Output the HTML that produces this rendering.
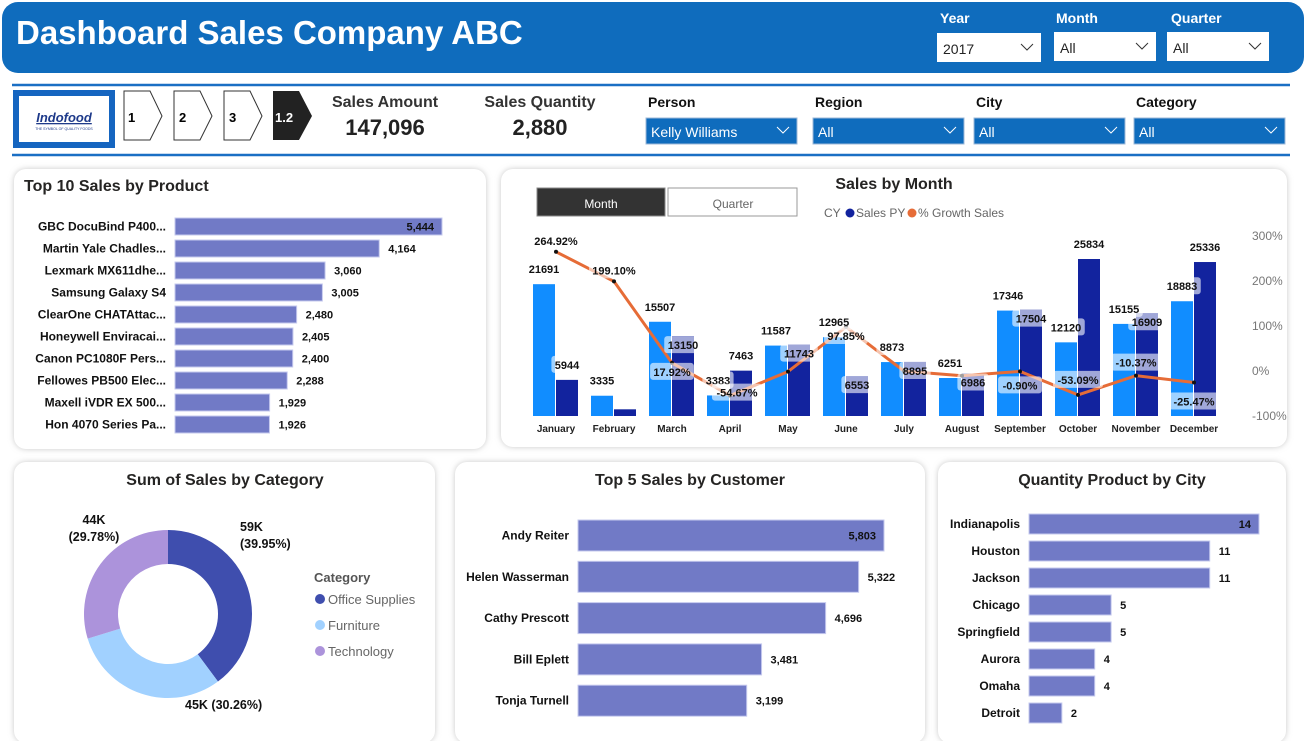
<!DOCTYPE html>
<html><head><meta charset="utf-8">
<style>
body{margin:0;width:1308px;height:741px;overflow:hidden;background:#fff;font-family:"Liberation Sans",sans-serif}
svg text{font-family:"Liberation Sans",sans-serif}
</style></head>
<body>
<svg id="s" width="1308" height="741" viewBox="0 0 1308 741">
<defs>
<filter id="sh" x="-5%" y="-5%" width="110%" height="110%"><feGaussianBlur stdDeviation="3"/></filter>
</defs>
<rect x="2" y="2" width="1302" height="71" rx="16" fill="#0F6CBD"/>
<text x="16" y="44" font-size="33" font-weight="bold" fill="#fff">Dashboard Sales Company ABC</text>
<g>
<text x="940" y="23" font-size="14" font-weight="bold" fill="#fff">Year</text>
<rect x="937" y="33" width="104" height="29" fill="#fff"/><text x="943" y="54" font-size="14" fill="#222">2017</text>
<path d="M1021 44l6 6 6-6" stroke="#333" fill="none"/></g>
<g>
<text x="1056" y="23" font-size="14" font-weight="bold" fill="#fff">Month</text>
<rect x="1054" y="32" width="102" height="29" fill="#fff"/><text x="1060" y="53" font-size="14" fill="#222">All</text>
<path d="M1136 43l6 6 6-6" stroke="#333" fill="none"/></g>
<g>
<text x="1171" y="23" font-size="14" font-weight="bold" fill="#fff">Quarter</text>
<rect x="1167" y="32" width="102" height="29" fill="#fff"/><text x="1173" y="53" font-size="14" fill="#222">All</text>
<path d="M1249 43l6 6 6-6" stroke="#333" fill="none"/></g>

<line x1="12" y1="85" x2="1290" y2="85" stroke="#1A6FC4" stroke-width="2.5"/>
<line x1="12" y1="155" x2="1290" y2="155" stroke="#1A6FC4" stroke-width="2.5"/>
<g>
<rect x="13" y="90" width="102" height="58" fill="#1565C0"/><rect x="19" y="96" width="90" height="46" fill="#fff"/>
<text x="64" y="122" font-size="13" font-weight="bold" font-style="italic" fill="#1E3A8A" text-anchor="middle" text-decoration="underline">Indofood</text>
<text x="64" y="130" font-size="3.5" fill="#1E3A8A" text-anchor="middle">THE SYMBOL OF QUALITY FOODS</text></g>
<g><path d="M124 91h26l12 25-12 24h-26z" fill="#fff" stroke="#333"/><text x="128" y="122" font-size="13" font-weight="bold">1</text></g>
<g><path d="M174 91h26l12 25-12 24h-26z" fill="#fff" stroke="#333"/><text x="179" y="122" font-size="13" font-weight="bold">2</text></g>
<g><path d="M224 91h26l12 25-12 24h-26z" fill="#fff" stroke="#333"/><text x="229" y="122" font-size="13" font-weight="bold">3</text></g>
<g><path d="M273 91h26l13 25-13 24h-26z" fill="#222"/><text x="275" y="122" font-size="13" font-weight="bold" fill="#fff">1.2</text></g>
<g>
<text x="385" y="107" font-size="16" font-weight="bold" fill="#333" text-anchor="middle">Sales Amount</text>
<text x="385" y="135" font-size="22" font-weight="bold" fill="#222" text-anchor="middle">147,096</text></g>
<g>
<text x="540" y="107" font-size="16" font-weight="bold" fill="#333" text-anchor="middle">Sales Quantity</text>
<text x="540" y="135" font-size="22" font-weight="bold" fill="#222" text-anchor="middle">2,880</text></g>
<g id="slicers"></g>
<g id="panels"></g>
<g id="top10"></g>
<g id="month"></g>
<g id="donut"></g>
<g id="cust"></g>
<g id="city"></g>
</svg>
<script>
const NS='http://www.w3.org/2000/svg';
function mk(tag,attrs,parent,txt){const e=document.createElementNS(NS,tag);for(const k in attrs)e.setAttribute(k,attrs[k]);if(txt!==undefined)e.textContent=txt;parent.appendChild(e);return e;}
const G=id=>document.getElementById(id);

const slicerNames=['Person','Region','City','Category'];
const slicerVals=['Kelly Williams','All','All','All'];
const slicerX=[646,813,974,1134];
slicerNames.forEach((n,i)=>{
  const g=mk('g',{},G('slicers'));
  
  
  mk('text',{x:slicerX[i]+2,y:107,'font-size':14,'font-weight':'bold',fill:'#111'},g,n);
  const w=151;
  mk('rect',{x:slicerX[i],y:118,width:w,height:26,fill:'#0F6CBD',stroke:'#9db9d8'},g);
  mk('text',{x:slicerX[i]+5,y:137,'font-size':14,fill:'#fff'},g,slicerVals[i]);
  mk('path',{d:`M${slicerX[i]+w-20} 127l6 6 6-6`,stroke:'#fff',fill:'none'},g);
});

const panels=[['top10-panel',14,169,472,280],['sales-by-month-panel',501,169,786,278],['category-panel',14,462,421,281],['customer-panel',455,462,470,281],['city-panel',938,462,348,281]];
panels.forEach(p=>{
  mk('rect',{x:p[1],y:p[2],width:p[3],height:p[4],rx:12,fill:'#c8c8c8',filter:'url(#sh)'},G('panels'));
  const r=mk('rect',{x:p[1],y:p[2],width:p[3],height:p[4],rx:12,fill:'#fff'},G('panels'));
  
  
});

function hbar(gid,title,tx,ty,anchor,cats,vals,x0,scale,y0,pitch,bh,fs,inside){
  const g=G(gid);
  const t=mk('text',{x:tx,y:ty,'font-size':16,'font-weight':'bold',fill:'#252423','text-anchor':anchor},g,title);
  
  
  cats.forEach((c,i)=>{
    const y=y0+i*pitch, w=vals[i]*scale;
    const lab=mk('text',{x:x0-9,y:y+bh/2+4,'font-size':fs,'font-weight':'bold',fill:'#111','text-anchor':'end'},g,c);
    
    
    const r=mk('rect',{x:x0,y:y,width:w,height:bh,fill:'#717AC6',stroke:'#c5c9ee','stroke-width':1},g);
    
    
    const vs=vals[i].toLocaleString('en-US');
    const isIn=inside&&i==0;
    const v=mk('text',{x:isIn?x0+w-8:x0+w+9,y:y+bh/2+4,'font-size':fs-1,'font-weight':'bold',fill:'#111','text-anchor':isIn?'end':'start'},g,vs);
    
    
  });
}
const productCats=['GBC DocuBind P400...','Martin Yale Chadles...','Lexmark MX611dhe...','Samsung Galaxy S4','ClearOne CHATAttac...','Honeywell Enviracai...','Canon PC1080F Pers...','Fellowes PB500 Elec...','Maxell iVDR EX 500...','Hon 4070 Series Pa...'];
const productVals=[5444,4164,3060,3005,2480,2405,2400,2288,1929,1926];
hbar('top10','Top 10 Sales by Product',24,191,'start',productCats,productVals,175,267/5444,218,22,17,12,true);

const custCats=['Andy Reiter','Helen Wasserman','Cathy Prescott','Bill Eplett','Tonja Turnell'];
const custVals=[5803,5322,4696,3481,3199];
hbar('cust','Top 5 Sales by Customer',690,485,'middle',custCats,custVals,578,306/5803,520,41.3,31,12,true);

const cityCats=['Indianapolis','Houston','Jackson','Chicago','Springfield','Aurora','Omaha','Detroit'];
const cityVals=[14,11,11,5,5,4,4,2];
hbar('city','Quantity Product by City',1112,485,'middle',cityCats,cityVals,1029,230/14,514,27,20,12,true);

const donutCats=['Office Supplies','Furniture','Technology'];
const donutVals=[59,45,44];
const donutLabels=['59K\n(39.95%)','45K (30.26%)','44K\n(29.78%)'];
const donutCols=['#3F4EAE','#A1D1FF','#AC93DB'];
(function(){
  const g=G('donut');
  const t=mk('text',{x:225,y:485,'font-size':16,'font-weight':'bold',fill:'#252423','text-anchor':'middle'},g,'Sum of Sales by Category');
  
  
  const cx=168,cy=614,R=84,r=50;
  const tot=donutVals.reduce((a,b)=>a+b,0);
  let a=-Math.PI/2;
  donutVals.forEach((v,i)=>{
    const a2=a+v/tot*2*Math.PI, lg=(a2-a)>Math.PI?1:0;
    const p=(rad,ang)=>[cx+rad*Math.cos(ang),cy+rad*Math.sin(ang)];
    const [x1,y1]=p(R,a),[x2,y2]=p(R,a2),[x3,y3]=p(r,a2),[x4,y4]=p(r,a);
    const s=mk('path',{d:`M${x1} ${y1}A${R} ${R} 0 ${lg} 1 ${x2} ${y2}L${x3} ${y3}A${r} ${r} 0 ${lg} 0 ${x4} ${y4}Z`,fill:donutCols[i]},g);
    
    
    const lines=donutLabels[i].split('\n');
    let tx,ty;
    if(i==1){tx=cx+17;ty=cy+95;}
    if(i==0){tx=cx+72;ty=cy-83;}
    if(i==2){tx=cx-74;ty=cy-90;}
    lines.forEach((ln,k)=>{
      const tt=mk('text',{x:tx,y:ty+k*17,'font-size':12.5,'font-weight':'bold',fill:'#111','text-anchor':i==2?'middle':'start'},g,ln);
      
      
    });
    a=a2;
  });
  const lt=mk('text',{x:314,y:582,'font-size':13,'font-weight':'bold',fill:'#555'},g,'Category');
  
  
  donutCats.forEach((c,i)=>{
    const le=mk('g',{},g);
    
    
    mk('circle',{cx:320,cy:599+i*26,r:5,fill:donutCols[i]},le);
    mk('text',{x:328,y:604+i*26,'font-size':13,fill:'#666'},le,c);
  });
})();

const months=['January','February','March','April','May','June','July','August','September','October','November','December'];
const salesCY=[21691,3335,15507,3383,11587,12965,8873,6251,17346,12120,15155,18883];
const salesPY=[5944,1100,13150,7463,11743,6553,8895,6986,17504,25834,16909,25336];
const growth=[264.92,199.10,17.92,-54.67,-1.33,97.85,-0.25,-10.5,-0.90,-53.09,-10.37,-25.47];
const growthLabels=['264.92%','199.10%','17.92%','-54.67%','','97.85%','','','-0.90%','-53.09%','-10.37%','-25.47%'];
const rightTicks=['300%','200%','100%','0%','-100%'];
const rightTickVals=[300,200,100,0,-100];
(function(){
  const g=G('month');
  const t=mk('text',{x:894,y:189,'font-size':16,'font-weight':'bold',fill:'#252423','text-anchor':'middle'},g,'Sales by Month');
  
  
  const b1=mk('g',{},g);
  mk('rect',{x:537,y:188,width:128,height:28,fill:'#333',stroke:'#888'},b1);
  mk('text',{x:601,y:208,'font-size':12,fill:'#fff','text-anchor':'middle'},b1,'Month');
  const b2=mk('g',{},g);
  mk('rect',{x:668,y:188,width:129,height:28,fill:'#fff',stroke:'#999'},b2);
  mk('text',{x:733,y:208,'font-size':12,fill:'#666','text-anchor':'middle'},b2,'Quarter');
  const lg=mk('g',{},g);
  mk('text',{x:824,y:217,'font-size':12,fill:'#666'},lg,'CY');
  mk('circle',{cx:850,cy:213,r:4.5,fill:'#12239E'},lg);
  mk('text',{x:856,y:217,'font-size':12,fill:'#666'},lg,'Sales PY');
  mk('circle',{cx:912,cy:213,r:4.5,fill:'#E66C37'},lg);
  mk('text',{x:918,y:217,'font-size':12,fill:'#666'},lg,'% Growth Sales');
  const base=416, ys=v=>base-v*157/25834;
  const gy=v=>371-v*0.45;
  const xc=i=>556+i*58;
  rightTickVals.forEach((v,i)=>{
    const tt=mk('text',{x:1252,y:gy(v)+4,'font-size':12,fill:'#777'},g,rightTicks[i]);
    
    
  });
  months.forEach((m,i)=>{
    const x=xc(i);
    const c=mk('rect',{x:x-23,y:ys(salesCY[i]),width:22,height:base-ys(salesCY[i]),fill:'#118DFF'},g);
    
    
    const p=mk('rect',{x:x,y:ys(salesPY[i]),width:22,height:base-ys(salesPY[i]),fill:'#12239E'},g);
    
    
    const ml=mk('text',{x:x,y:432,'font-size':10,'font-weight':'bold',fill:'#222','text-anchor':'middle'},g,m);
    
    
  });
  const pts=growth.map((v,i)=>xc(i)+','+gy(v)).join(' ');
  const ln=mk('polyline',{points:pts,fill:'none',stroke:'#E66C37','stroke-width':3,'stroke-linejoin':'round'},g);
  
  
  growth.forEach((v,i)=>{
    const d=mk('circle',{cx:xc(i),cy:gy(v),r:2,fill:'#111'},g);
    
    
  });
  function lbl(x,y,s){
    const w=s.length*6.3+6;
    mk('rect',{x:x-w/2,y:y-12,width:w,height:17,rx:3,fill:'#fff','fill-opacity':0.6},g);
    const tt=mk('text',{x:x,y:y+1,'font-size':11,'font-weight':'bold',fill:'#111','text-anchor':'middle'},g,s);
    
    
  }
  const pyOff=[-12,0,12,-12,12,12,12,12,12,-12,12,-12];
  const gOff=[-8,-8,12,0,0,12,0,0,17,-12,-10,22];
  months.forEach((m,i)=>{
    const x=xc(i);
    lbl(x-12,ys(salesCY[i])-12,String(salesCY[i]));
    if(i!=1) lbl(x+11, ys(salesPY[i])+pyOff[i], String(salesPY[i]));
    if(growthLabels[i]) lbl(x+(i==3?7:0), gy(growth[i])+gOff[i], growthLabels[i]);
  });
})();
</script>
</body></html>
